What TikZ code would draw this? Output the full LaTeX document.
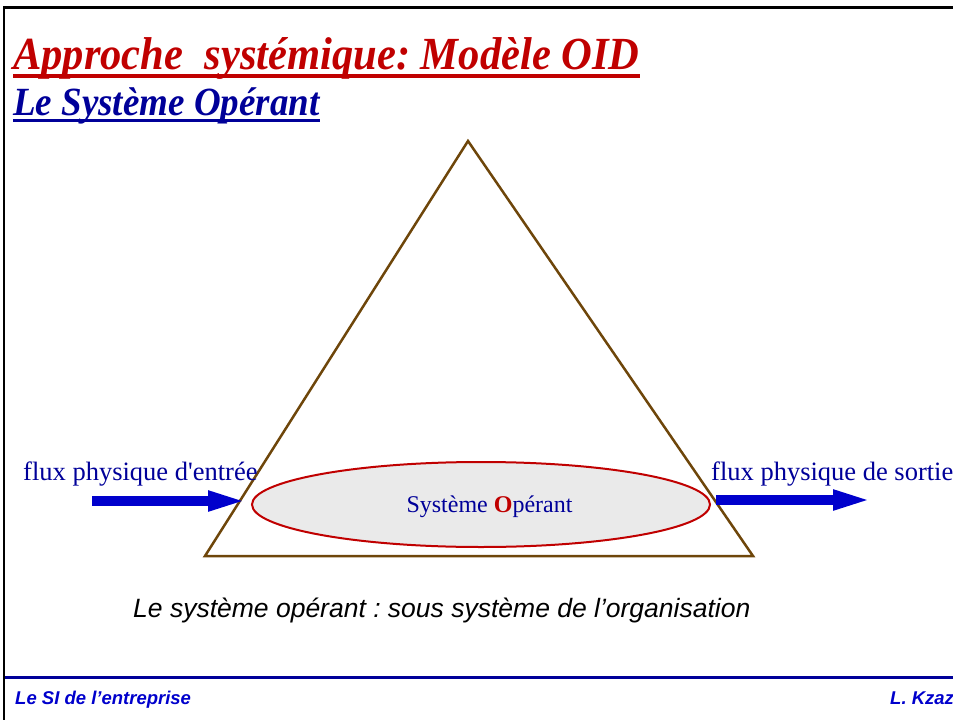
\documentclass[tikz,border=0pt]{standalone}
\usepackage{fontspec}
\setmainfont{Liberation Serif}
\setsansfont{Liberation Sans}
\usetikzlibrary{arrows.meta, shapes.geometric}

\definecolor{titlered}{RGB}{192,0,0}
\definecolor{navy}{RGB}{0,0,153}
\definecolor{flowblue}{RGB}{0,0,204}
\definecolor{trianglebrown}{RGB}{110,70,10}
\definecolor{ellipsegray}{RGB}{234,234,234}
\frenchspacing

\begin{document}
\begin{tikzpicture}[x=1pt, y=-1pt,
    txt/.style={inner sep=0pt, anchor=base west},
    flow/.style={flowblue, line width=9.5pt, -{Triangle[length=40pt, width=18pt]}}]
    \useasboundingbox (0,0) rectangle (953,720);

    % Frame
    \draw[line width=2.5pt] (4,720) -- (4,7.5) -- (953,7.5);
    \draw[navy, line width=3pt] (5,677) -- (953,677);

    % Titles (underlined)
    \node[txt, titlered, font=\fontsize{46}{52}\bfseries\itshape\selectfont] (title) at (13,69)
        {\scalebox{0.925}[1]{Approche\ \ systémique: Modèle OID}};
    \draw[titlered, line width=4.5pt] ([yshift=-7pt]title.base west) -- ([yshift=-7pt]title.base east);
    \node[txt, navy, font=\fontsize{40}{46}\bfseries\itshape\selectfont] (subtitle) at (13,115)
        {\scalebox{0.925}[1]{Le Système Opérant}};
    \draw[navy, line width=3pt] ([yshift=-5.5pt]subtitle.base west) -- ([yshift=-5.5pt]subtitle.base east);

    % Triangle
    \coordinate (apex) at (468,141);
    \coordinate (baseL) at (205,556);
    \coordinate (baseR) at (753,556);
    \draw[trianglebrown, line width=2.5pt] (apex) -- (baseR) -- (baseL) -- cycle;

    % Operating system
    \node[ellipse, draw=titlered, fill=ellipsegray, line width=2pt, inner sep=0pt,
        minimum width=458pt, minimum height=85pt] (so) at (481,504.5) {};
    \node[inner sep=0pt, anchor=base, navy, font=\fontsize{24}{28}\selectfont] (soLabel) at (489.5,512)
        {Système {\color{titlered}\bfseries O}pérant};

    % Physical flows
    \coordinate (inStart) at (92,501);
    \coordinate (inEnd) at (248,501);
    \coordinate (outStart) at (716,500);
    \coordinate (outEnd) at (873,500);
    \draw[flow] (inStart) -- (inEnd);
    \draw[flow] (outStart) -- (outEnd);
    \node[txt, navy, font=\fontsize{26.5}{30}\selectfont] (inLabel) at (23,480)
        {flux physique d\textquotesingle entrée};
    \node[txt, navy, font=\fontsize{26.5}{30}\selectfont] (outLabel) at (711,480)
        {flux physique de sortie};

    % Caption
    \node[txt, font=\fontsize{26.5}{30}\sffamily\itshape\selectfont] (caption) at (133,617)
        {Le système opérant : sous système de l’organisation};

    % Footer
    \node[txt, flowblue, font=\fontsize{18.5}{22}\sffamily\bfseries\itshape\selectfont] (footL) at (15,704)
        {Le SI de l’entreprise};
    \node[txt, flowblue, font=\fontsize{18.5}{22}\sffamily\bfseries\itshape\selectfont] (footR) at (890,704)
        {L. Kzaz};
\end{tikzpicture}
\end{document}
